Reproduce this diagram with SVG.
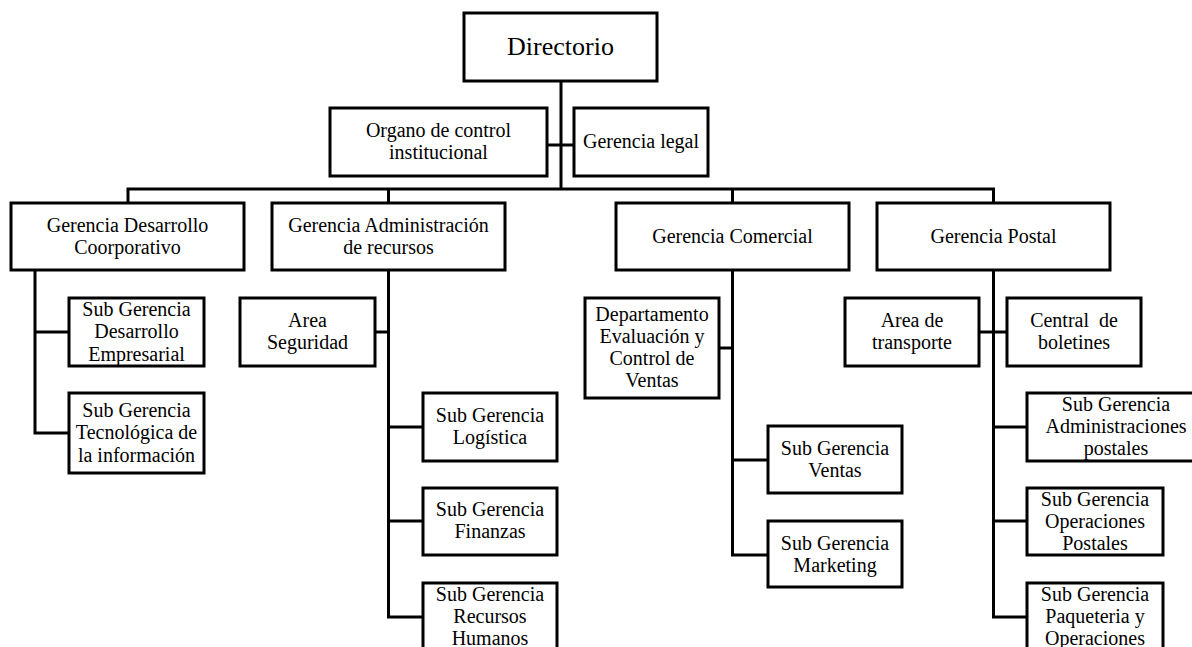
<svg xmlns="http://www.w3.org/2000/svg" width="1192" height="647" viewBox="0 0 1192 647">
<style>
rect.n{fill:#fff;stroke:#000;stroke-width:3}
.c path,.c line{stroke:#000;stroke-width:3;fill:none}
text{font-family:"Liberation Serif","Times New Roman",serif;font-size:20px;fill:#000;text-anchor:middle}
text.big{font-size:26px}
</style>
<rect width="1192" height="647" fill="#fff"/>
<g class="c" id="connectors">
<line x1="561" y1="81" x2="561" y2="189"/>
<line x1="547" y1="145" x2="574" y2="145"/>
<path d="M128 203V189H993.5V203"/>
<line x1="388.5" y1="189" x2="388.5" y2="203"/>
<line x1="732.5" y1="189" x2="732.5" y2="203"/>
<path d="M35 270V433H69"/>
<line x1="35" y1="332" x2="69" y2="332"/>
<path d="M388.5 270V617H423"/>
<line x1="375" y1="332" x2="388.5" y2="332"/>
<line x1="388.5" y1="427" x2="423" y2="427"/>
<line x1="388.5" y1="521" x2="423" y2="521"/>
<path d="M732.5 270V555H768"/>
<line x1="719" y1="348" x2="732.5" y2="348"/>
<line x1="732.5" y1="460" x2="768" y2="460"/>
<path d="M993.5 270V617H1027"/>
<line x1="979" y1="332" x2="1007" y2="332"/>
<line x1="993.5" y1="427" x2="1027" y2="427"/>
<line x1="993.5" y1="521" x2="1027" y2="521"/>
</g>
<g id="directorio"><rect class="n" x="464" y="13" width="193" height="68"/><text class="big" x="560.5" y="55">Directorio</text></g>
<g id="organo"><rect class="n" x="330" y="108" width="217" height="68"/><text x="438.5" y="137">Organo de control</text><text x="438.5" y="159">institucional</text></g>
<g id="gerencia-legal"><rect class="n" x="574" y="108" width="134" height="68"/><text x="641" y="148">Gerencia legal</text></g>
<g id="g-desarrollo"><rect class="n" x="11" y="203" width="233" height="67"/><text x="127.5" y="232">Gerencia Desarrollo</text><text x="127.5" y="254">Coorporativo</text></g>
<g id="g-admin"><rect class="n" x="272" y="203" width="233" height="67"/><text x="388.5" y="232">Gerencia Administración</text><text x="388.5" y="254">de recursos</text></g>
<g id="g-comercial"><rect class="n" x="616" y="203" width="233" height="67"/><text x="732.5" y="243">Gerencia Comercial</text></g>
<g id="g-postal"><rect class="n" x="877" y="203" width="233" height="67"/><text x="993.5" y="243">Gerencia Postal</text></g>
<g id="sg-desarrollo"><rect class="n" x="69" y="298" width="135" height="68"/><text x="136.5" y="316">Sub Gerencia</text><text x="136.5" y="338">Desarrollo</text><text x="136.5" y="361">Empresarial</text></g>
<g id="sg-tecnologica"><rect class="n" x="69" y="393" width="135" height="80"/><text x="136.5" y="417">Sub Gerencia</text><text x="136.5" y="439">Tecnológica de</text><text x="136.5" y="462">la información</text></g>
<g id="area-seguridad"><rect class="n" x="240" y="298" width="135" height="68"/><text x="307.5" y="327">Area</text><text x="307.5" y="349">Seguridad</text></g>
<g id="sg-logistica"><rect class="n" x="423" y="393" width="134" height="68"/><text x="490" y="422">Sub Gerencia</text><text x="490" y="444">Logística</text></g>
<g id="sg-finanzas"><rect class="n" x="423" y="488" width="134" height="67"/><text x="490" y="516">Sub Gerencia</text><text x="490" y="538">Finanzas</text></g>
<g id="sg-rrhh"><rect class="n" x="423" y="583" width="134" height="90"/><text x="490" y="601">Sub Gerencia</text><text x="490" y="623">Recursos</text><text x="490" y="645">Humanos</text></g>
<g id="dep-evaluacion"><rect class="n" x="585" y="298" width="134" height="100"/><text x="652" y="321">Departamento</text><text x="652" y="343">Evaluación y</text><text x="652" y="365">Control de</text><text x="652" y="387">Ventas</text></g>
<g id="sg-ventas"><rect class="n" x="768" y="426" width="134" height="67"/><text x="835" y="455">Sub Gerencia</text><text x="835" y="477">Ventas</text></g>
<g id="sg-marketing"><rect class="n" x="768" y="521" width="134" height="66"/><text x="835" y="550">Sub Gerencia</text><text x="835" y="572">Marketing</text></g>
<g id="area-transporte"><rect class="n" x="845" y="298" width="134" height="68"/><text x="912" y="327">Area de</text><text x="912" y="349">transporte</text></g>
<g id="central-boletines"><rect class="n" x="1007" y="298" width="134" height="68"/><text x="1074" y="327" xml:space="preserve">Central  de</text><text x="1074" y="349">boletines</text></g>
<g id="sg-adm-postales"><rect class="n" x="1027" y="393" width="180" height="68"/><text x="1116" y="411">Sub Gerencia</text><text x="1116" y="433">Administraciones</text><text x="1116" y="455">postales</text></g>
<g id="sg-op-postales"><rect class="n" x="1027" y="488" width="136" height="67"/><text x="1095" y="506">Sub Gerencia</text><text x="1095" y="528">Operaciones</text><text x="1095" y="550">Postales</text></g>
<g id="sg-paqueteria"><rect class="n" x="1027" y="583" width="136" height="90"/><text x="1095" y="601">Sub Gerencia</text><text x="1095" y="623">Paqueteria y</text><text x="1095" y="645">Operaciones</text></g>
</svg>
